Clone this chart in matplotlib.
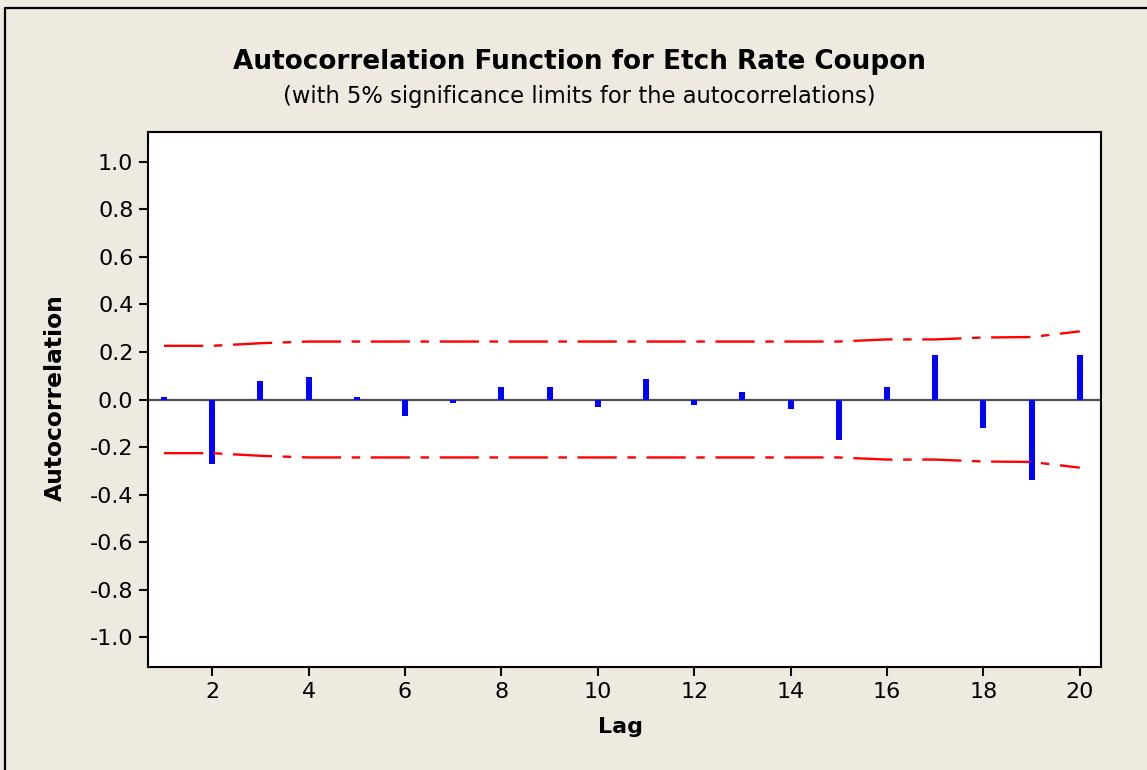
import matplotlib
matplotlib.use("Agg")
import matplotlib.pyplot as plt
from matplotlib.lines import Line2D

plt.rcParams['font.family'] = ['DejaVu Sans']

lags = list(range(1, 21))
acf = [0.01, -0.27, 0.078, 0.096, 0.01, -0.071, -0.013, 0.054, 0.054, -0.03,
       0.086, -0.022, 0.03, -0.039, -0.172, 0.054, 0.189, -0.121, -0.34, 0.189]
limits = [0.226, 0.226, 0.237, 0.244, 0.244, 0.244, 0.244, 0.244, 0.244, 0.244,
          0.244, 0.244, 0.244, 0.244, 0.244, 0.253, 0.253, 0.261, 0.263, 0.287]
xticks = [2, 4, 6, 8, 10, 12, 14, 16, 18, 20]
yticks = [-1.0, -0.8, -0.6, -0.4, -0.2, 0.0, 0.2, 0.4, 0.6, 0.8, 1.0]
ytick_labels = ["%.1f" % v for v in yticks]

bg = '#EEEAE0'
W, H = 1147, 770
fig = plt.figure(figsize=(W / 100, H / 100), dpi=100, facecolor=bg)

# outer border (left and top only visible)
fig.add_artist(Line2D([5 / W, 5 / W, 1.0], [0.0, 1 - 8 / H, 1 - 8 / H],
                      transform=fig.transFigure, color='black', lw=1.6))

ax = fig.add_axes([148 / W, 1 - 667 / H, (1101 - 148) / W, (667 - 132) / H])
ax.set_facecolor('white')
for s in ax.spines.values():
    s.set_linewidth(1.5)
    s.set_color('black')

ax.axhline(0, color='#505050', lw=1.6, zorder=2)
ax.vlines(lags, 0, acf, color='#0000FF', lw=4.3, zorder=3)
ls = (0, (16.6, 4.5, 3.6, 4.5))
ax.plot(lags, limits, color='#FF0000', lw=1.7, linestyle=ls, zorder=4)
ax.plot(lags, [-v for v in limits], color='#FF0000', lw=1.7, linestyle=ls, zorder=4)

ax.set_xlim(0.668, 20.44)
ax.set_ylim(-1.1263, 1.1263)
ax.set_xticks(xticks)
ax.set_xticklabels([str(t) for t in xticks])
ax.set_yticks(yticks)
ax.set_yticklabels(ytick_labels)
ax.tick_params(axis='both', direction='out', length=6.5, width=1.5, pad=4,
               labelsize=16, color='black', labelcolor='black')

fig.text(579 / W, 1 - 62 / H, "Autocorrelation Function for Etch Rate Coupon",
         ha='center', va='center', fontsize=18.9, fontweight='bold')
fig.text(579 / W, 1 - 97 / H, "(with 5% significance limits for the autocorrelations)",
         ha='center', va='center', fontsize=16.3)
fig.text(620 / W, 1 - 727 / H, "Lag", ha='center', va='center',
         fontsize=16, fontweight='bold')
fig.text(55 / W, 1 - 398 / H, "Autocorrelation", ha='center', va='center',
         rotation=90, fontsize=16.8, fontweight='bold')

fig.savefig("out.png", dpi=100, facecolor=bg)
